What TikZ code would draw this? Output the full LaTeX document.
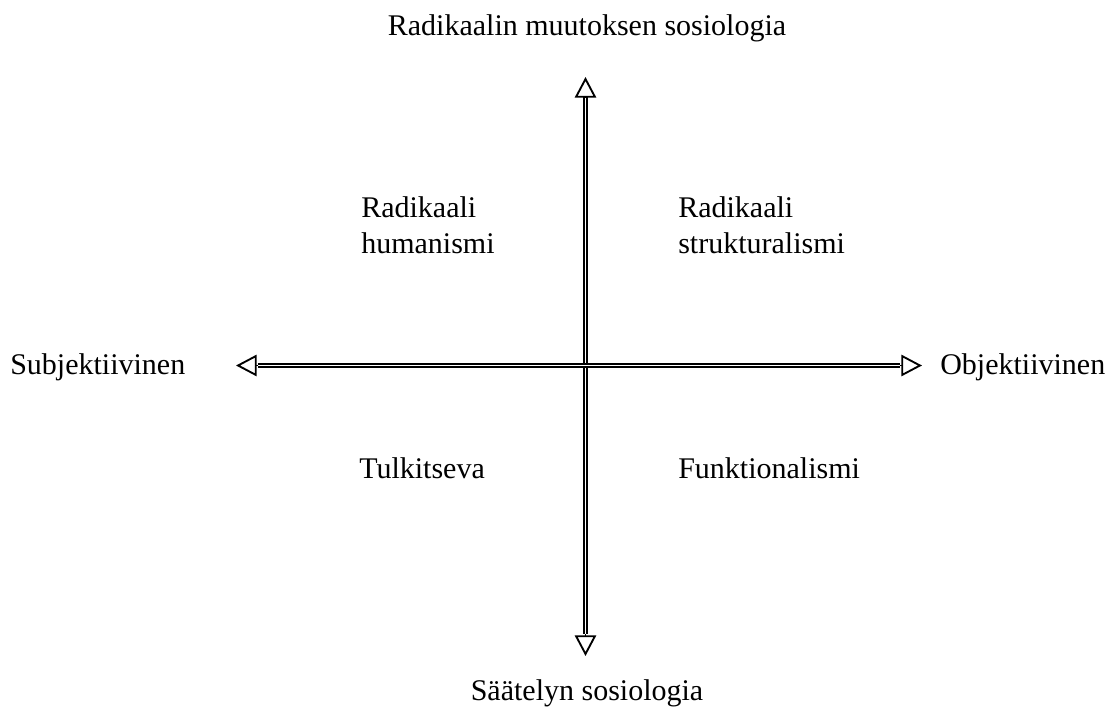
\documentclass[tikz,border=0pt]{standalone}
\usepackage{fontspec}
\setmainfont{Liberation Serif}
\usetikzlibrary{arrows.meta}
\begin{document}
\begin{tikzpicture}[x=0.75pt,y=-0.75pt,
  lbl/.style={inner sep=0pt,font=\fontsize{22.5}{27}\selectfont},
  shaft/.style={double,line width=1.3pt,double distance=0.6pt},
  tip/.style={line width=1.4pt,-{Triangle[open,length=15.5pt,width=16pt]}}]
\useasboundingbox (0,0) rectangle (1105,709);
% axis coordinates
\coordinate (ttip) at (585.5,77);
\coordinate (tbase) at (585.5,97);
\coordinate (btip) at (585.5,656);
\coordinate (bbase) at (585.5,634);
\coordinate (ltip) at (236,365.5);
\coordinate (lbase) at (258,365.5);
\coordinate (rtip) at (922,365.5);
\coordinate (rbase) at (900,365.5);
% shafts
\draw[shaft] (tbase) -- (bbase);
\draw[shaft] (lbase) -- (rbase);
% arrowheads
\draw[tip] (tbase) -- (ttip);
\draw[tip] (bbase) -- (btip);
\draw[tip] (lbase) -- (ltip);
\draw[tip] (rbase) -- (rtip);
% labels
\node[lbl,anchor=base] (top) at (587,36) {Radikaalin muutoksen sosiologia};
\node[lbl,anchor=base] (bot) at (587,700) {Säätelyn sosiologia};
\node[lbl,anchor=base west] (subj) at (10,374) {Subjektiivinen};
\node[lbl,anchor=base west] (obj) at (940,374) {Objektiivinen};
\node[lbl,anchor=base west,align=left] (rh) at (361,253) {Radikaali\\humanismi};
\node[lbl,anchor=base west,align=left] (rs) at (678,253) {Radikaali\\strukturalismi};
\node[lbl,anchor=base west] (tk) at (359,478) {Tulkitseva};
\node[lbl,anchor=base west] (fu) at (678,478) {Funktionalismi};
\end{tikzpicture}
\end{document}
